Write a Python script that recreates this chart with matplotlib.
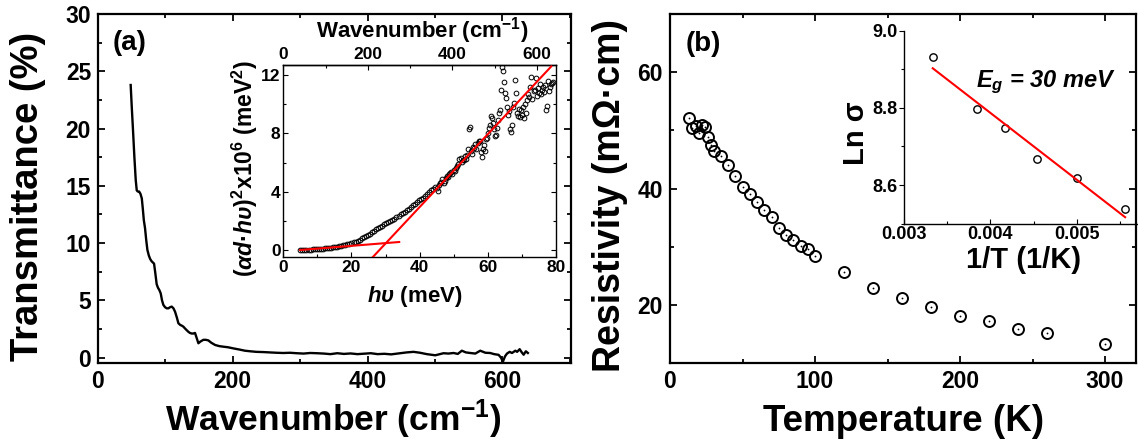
import matplotlib
matplotlib.use('Agg')
import matplotlib.pyplot as plt
from matplotlib.ticker import MultipleLocator, FormatStrFormatter

plt.rcParams['font.family'] = ['Liberation Sans', 'DejaVu Sans']
plt.rcParams['font.weight'] = 'bold'
plt.rcParams['axes.labelweight'] = 'bold'
plt.rcParams['mathtext.fontset'] = 'custom'
plt.rcParams['mathtext.rm'] = 'Liberation Sans:bold'
plt.rcParams['mathtext.it'] = 'Liberation Sans:bold:italic'
plt.rcParams['mathtext.bf'] = 'Liberation Sans:bold'
plt.rcParams['mathtext.sf'] = 'Liberation Sans:bold'

# ---------------- data ----------------
# (a) main: transmittance vs wavenumber
wavenumber = [48.5, 50, 52, 54, 56, 57.5, 59, 61, 63, 65,
              66.5, 68, 69.8, 71.5, 73.3, 75.5, 77.5, 79.7, 81.5, 83.2,
              85, 87.1, 89, 91, 93.1, 95, 97, 99.5, 102, 104.5,
              107, 109.4, 112, 114.4, 117, 119.3, 122, 124, 126.7, 129,
              131.5, 134.1, 136.5, 139.1, 141.5, 144, 146.5, 149, 152, 156.4,
              160, 163.8, 168, 173.8, 180, 186.1, 193, 201, 210, 218,
              225.8, 235, 245.6, 255, 265, 275, 285, 295, 305, 315,
              325, 335, 345, 355, 365, 375, 385, 395, 405, 415,
              425, 435, 448.5, 458, 468.3, 478, 488, 500.5, 506, 512.8,
              520, 527.7, 534, 540, 546, 552.5, 560, 567.3, 575, 582,
              588, 594.5, 598, 601, 604, 607, 611, 614.4, 619.4, 622,
              625.8, 629, 631.7, 635, 638]
transmittance = [23.8, 22.0, 19.8, 17.5, 15.5, 14.6, 14.5, 14.5, 14.3, 13.9,
                 13.0, 12.0, 11.3, 10.3, 9.4, 8.9, 8.6, 8.4, 8.3, 8.2,
                 7.4, 6.4, 6.1, 5.9, 5.6, 5.0, 4.6, 4.4, 4.3, 4.3,
                 4.4, 4.45, 4.3, 4.0, 3.5, 3.0, 2.85, 2.8, 2.7, 2.55,
                 2.4, 2.25, 2.15, 2.1, 2.1, 2.15, 1.7, 1.25, 1.4, 1.55,
                 1.55, 1.5, 1.3, 1.1, 1.0, 0.95, 0.9, 0.8, 0.7, 0.6,
                 0.55, 0.5, 0.48, 0.45, 0.42, 0.40, 0.42, 0.38, 0.35, 0.40,
                 0.38, 0.35, 0.30, 0.38, 0.32, 0.36, 0.30, 0.34, 0.38, 0.30,
                 0.33, 0.28, 0.38, 0.45, 0.50, 0.42, 0.30, 0.20, 0.28, 0.38,
                 0.35, 0.40, 0.32, 0.60, 0.45, 0.40, 0.35, 0.60, 0.42, 0.40,
                 0.30, 0.24, 0.0, -0.35, 0.10, 0.35, 0.50, 0.40, 0.60, 0.50,
                 0.73, 0.45, 0.25, 0.55, 0.40]

# (a) inset: (alpha d h nu)^2 vs h nu
hv = [5.0, 5.6, 6.2, 6.8, 7.4, 8.0, 8.6, 9.2, 9.8, 10.4,
      11.0, 11.6, 12.2, 12.8, 13.4, 14.0, 14.6, 15.2, 15.8, 16.4,
      17.0, 17.6, 18.2, 18.8, 19.4, 20.0, 20.6, 21.2, 21.8, 22.4,
      23.0, 23.6, 24.2, 24.8, 25.4, 26.0, 26.6, 27.2, 27.8, 28.4,
      29.0, 29.6, 30.2, 30.8, 31.4, 32.0, 32.6, 33.2, 33.8, 34.4,
      35.0, 35.6, 36.2, 36.8, 37.4, 38.0, 38.6, 39.2, 39.8, 40.4,
      41.0, 41.6, 42.2, 42.8, 43.4, 44.0, 44.6,
      45.0, 45.3, 45.6, 46.0, 46.3, 46.6, 47.0, 47.3, 47.6, 48.0,
      48.3, 48.6, 49.0, 49.3, 49.6, 50.0, 50.3, 50.6, 51.0, 51.3,
      51.6, 52.0, 52.3, 52.6, 53.0, 53.3, 53.6, 54.0, 54.3, 54.6,
      54.8, 55.0, 55.3, 55.6, 56.0, 56.3, 56.6, 57.0, 57.3, 57.6,
      57.9, 58.2, 58.5, 58.8, 59.1, 59.4, 59.7, 60.0, 60.3, 60.6,
      60.9, 61.2, 61.5, 61.8, 62.1, 62.4, 62.7, 63.0, 63.3, 63.6,
      63.9, 64.2, 64.4, 64.7, 65.0, 65.3, 65.6, 65.9, 66.2, 66.5,
      66.8, 67.1, 67.4, 67.7, 68.0, 68.3, 68.6, 68.9, 69.2, 69.5,
      69.8, 70.1, 70.4, 70.7, 71.0, 71.3, 71.6, 71.9, 72.2, 72.5,
      72.8, 73.1, 73.4, 73.7, 74.0, 74.3, 74.6, 74.9, 75.2, 75.5,
      75.8, 76.1, 76.4, 76.7, 77.0, 77.3, 77.6, 77.9, 78.2, 78.5,
      78.8, 79.2]
absorb = [0.00, 0.01, 0.02, 0.01, 0.03, 0.02, 0.04, 0.05, 0.05, 0.07,
          0.08, 0.09, 0.11, 0.12, 0.14, 0.16, 0.18, 0.20, 0.22, 0.25,
          0.28, 0.31, 0.35, 0.39, 0.43, 0.47, 0.52, 0.58, 0.65, 0.72,
          0.80, 0.88, 0.96, 1.04, 1.12, 1.22, 1.30, 1.42, 1.50, 1.60,
          1.68, 1.76, 1.83, 1.90, 1.98, 2.06, 2.15, 2.24, 2.33, 2.44,
          2.52, 2.62, 2.72, 2.83, 2.95, 3.06, 3.15, 3.27, 3.40, 3.48,
          3.58, 3.68, 3.82, 3.95, 4.10, 4.22, 4.30,
          4.25, 4.05, 4.45, 4.62, 4.70, 4.85, 4.60, 4.75, 4.95, 5.05,
          4.98, 5.20, 5.32, 5.38, 5.25, 5.50, 5.40, 5.65, 5.80, 5.90,
          6.25, 6.30, 6.05, 6.15, 6.20, 6.45, 6.25, 6.55, 6.90, 8.30,
          8.45, 6.80, 6.60, 7.10, 7.00, 7.30, 6.90, 7.35, 7.50, 7.45,
          6.70, 6.40, 6.95, 7.20, 6.80, 7.60, 7.70, 8.00, 8.40, 8.60,
          9.20, 9.05, 8.70, 8.30, 7.80, 7.90, 8.40, 8.90, 9.40, 9.60,
          10.95, 12.55, 12.30, 11.50, 10.80, 10.45, 9.80, 9.30, 9.55, 8.30,
          8.10, 8.60, 9.80, 10.10, 11.65, 10.80, 9.40, 9.20, 9.70, 9.10,
          9.60, 9.30, 9.80, 9.05, 10.00, 9.40, 10.30, 10.70, 10.50, 11.20,
          11.85, 10.40, 10.90, 11.00, 11.80, 10.60, 11.10, 10.80, 11.40, 10.70,
          11.00, 11.20, 10.85, 11.30, 9.60, 9.90, 11.60, 10.90, 11.20, 11.40,
          11.45, 11.50]
fit_low_x = [4.9, 34.0]
fit_low_y = [0.0, 0.55]
fit_high_x = [26.2, 78.6]
fit_high_y = [-0.5, 12.6]

# (b) main: resistivity vs temperature
temperature = [13, 15.5, 18, 20, 22, 24, 26, 28, 30, 35, 40, 45, 50, 55, 60, 65,
               70, 75, 80, 85, 90, 95, 100, 120, 140, 160, 180, 200, 220, 240, 260, 300]
resistivity = [52.2, 50.4, 50.8, 49.6, 50.9, 50.6, 48.9, 47.5, 46.5, 45.6, 44.0, 42.2,
               40.3, 39.0, 37.7, 36.3, 35.1, 33.3, 32.1, 31.1, 30.1, 29.6, 28.4, 25.7,
               23.0, 21.2, 19.7, 18.2, 17.3, 15.9, 15.2, 13.3]

# (b) inset: Ln sigma vs 1/T
inv_T = [0.003333, 0.003846, 0.004167, 0.004545, 0.005, 0.005556]
ln_sigma = [8.933, 8.796, 8.747, 8.667, 8.618, 8.537]
fit_b_x = [0.003333, 0.005561]
fit_b_y = [8.9026, 8.5166]

# ---------------- figure ----------------
W, H = 1138, 441
fig = plt.figure(figsize=(W / 100, H / 100), dpi=100)


def fx(px):
    return px / W


def fy(py):
    return 1 - py / H


def rect(l, t, r, b):
    return [l / W, 1 - b / H, (r - l) / W, (b - t) / H]


def style(ax, lw, maj, mnr, size, pad, direction='in', mirror=True):
    for s in ax.spines.values():
        s.set_linewidth(lw)
    ax.tick_params(which='both', direction=direction, top=mirror, right=mirror,
                   width=lw * 0.8, labelsize=size, pad=pad)
    ax.tick_params(which='major', length=maj)
    ax.tick_params(which='minor', length=mnr)


RED = '#ff0000'
SUP = '$^{\\mathregular{-1}}$'

# ----- panel (a) -----
axA = fig.add_axes(rect(98, 14, 571, 363.3))
axA.plot(wavenumber, transmittance, color='black', lw=1.7)
axA.set_xlim(0, 702)
axA.set_ylim(-0.5, 30)
axA.xaxis.set_major_locator(MultipleLocator(200))
axA.xaxis.set_minor_locator(MultipleLocator(100))
axA.yaxis.set_major_locator(MultipleLocator(5))
axA.yaxis.set_minor_locator(MultipleLocator(2.5))
style(axA, 1.6, 5, 3, 16.5, 5)
axA.set_xlabel('Wavenumber (cm' + SUP + ')', fontsize=25.5, fontweight='bold')
axA.xaxis.set_label_coords(fx(333), fy(431), transform=fig.transFigure)
axA.xaxis.label.set_va('baseline')
axA.set_ylabel('Transmittance (%)', fontsize=27.5, fontweight='bold')
axA.yaxis.set_label_coords(fx(28.5), fy(196), transform=fig.transFigure)
axA.yaxis.label.set_va('center')
fig.text(fx(130), fy(43), '(a)', fontsize=20, fontweight='bold', ha='center', va='center')

# inset (a)
insA = fig.add_axes(rect(283.3, 65, 556, 257.3))
insA.plot(hv, absorb, linestyle='none', marker='o', ms=3.4, mfc='none',
          mec='black', mew=0.7, zorder=2)
insA.plot(fit_low_x, fit_low_y, color=RED, lw=1.5, zorder=3)
insA.plot(fit_high_x, fit_high_y, color=RED, lw=1.5, zorder=3)
insA.set_xlim(0, 80)
insA.set_ylim(-0.5, 12.7)
insA.xaxis.set_major_locator(MultipleLocator(20))
insA.xaxis.set_minor_locator(MultipleLocator(10))
insA.yaxis.set_major_locator(MultipleLocator(4))
insA.yaxis.set_minor_locator(MultipleLocator(2))
style(insA, 1.0, 3.5, 2, 12.5, 2)
insA.tick_params(which='both', top=False)
insA.set_xlabel(r'$h\upsilon$ (meV)', fontsize=16, fontweight='bold')
insA.xaxis.set_label_coords(fx(415), fy(302), transform=fig.transFigure)
insA.xaxis.label.set_va('baseline')
insA.set_ylabel('$(\\alpha d\u00b7h\\upsilon)^{\\mathregular{2}}$x10$^{\\mathregular{6}}$ (meV$^{\\mathregular{2}}$)',
                fontsize=16.5, fontweight='bold')
insA.yaxis.set_label_coords(fx(245), fy(169), transform=fig.transFigure)
insA.yaxis.label.set_va('center')

secA = insA.secondary_xaxis('top', functions=(lambda e: e * 8.0655, lambda w: w / 8.0655))
secA.xaxis.set_major_locator(MultipleLocator(200))
secA.xaxis.set_minor_locator(MultipleLocator(100))
secA.spines['top'].set_linewidth(1.0)
secA.tick_params(which='both', direction='in', width=0.8, labelsize=12.5, pad=2.4)
secA.tick_params(which='major', length=3.5)
secA.tick_params(which='minor', length=2)
secA.set_xlabel('Wavenumber (cm' + SUP + ')', fontsize=16, fontweight='bold')
secA.xaxis.set_label_coords(fx(422), fy(37.3), transform=fig.transFigure)
secA.xaxis.label.set_va('baseline')

# ----- panel (b) -----
axB = fig.add_axes(rect(670, 14, 1135.5, 363.3))
axB.plot(temperature, resistivity, linestyle='none', marker='o', ms=7.9,
         mfc='none', mec='black', mew=1.4)
axB.plot(temperature, resistivity, linestyle='none', marker='o', ms=1.3,
         mfc='black', mec='black', mew=0)
axB.set_xlim(0, 321)
axB.set_ylim(10, 70)
axB.xaxis.set_major_locator(MultipleLocator(100))
axB.xaxis.set_minor_locator(MultipleLocator(50))
axB.yaxis.set_major_locator(MultipleLocator(20))
axB.yaxis.set_minor_locator(MultipleLocator(10))
style(axB, 1.6, 5, 3, 16.5, 5)
axB.set_xlabel('Temperature (K)', fontsize=26.5, fontweight='bold')
axB.xaxis.set_label_coords(fx(904), fy(431), transform=fig.transFigure)
axB.xaxis.label.set_va('baseline')
axB.set_ylabel('Resistivity (m\u03a9\u00b7cm)', fontsize=27, fontweight='bold')
axB.yaxis.set_label_coords(fx(610.5), fy(196), transform=fig.transFigure)
axB.yaxis.label.set_va('center')
fig.text(fx(703), fy(44), '(b)', fontsize=20, fontweight='bold', ha='center', va='center')

# inset (b)
insB = fig.add_axes(rect(904, 30.7, 1138, 223.6))
insB.patch.set_alpha(0)
insB.plot(inv_T, ln_sigma, linestyle='none', marker='o', ms=5.3, mfc='none',
          mec='black', mew=1.0)
insB.plot(fit_b_x, fit_b_y, color=RED, lw=1.5)
insB.set_xlim(0.003, 0.00571)
insB.set_ylim(8.5, 9.0)
insB.spines['top'].set_visible(False)
insB.spines['right'].set_visible(False)
for s in ('left', 'bottom'):
    insB.spines[s].set_linewidth(1.0)
insB.xaxis.set_major_locator(MultipleLocator(0.001))
insB.xaxis.set_minor_locator(MultipleLocator(0.0005))
insB.xaxis.set_major_formatter(FormatStrFormatter('%.3f'))
insB.yaxis.set_major_locator(MultipleLocator(0.2))
insB.yaxis.set_minor_locator(MultipleLocator(0.1))
insB.yaxis.set_major_formatter(FormatStrFormatter('%.1f'))
insB.tick_params(axis='y', which='both', direction='out', width=0.8, labelsize=13, pad=1.2)
insB.tick_params(axis='x', which='both', direction='in', width=0.8, labelsize=13, pad=2)
insB.tick_params(which='major', length=3.5)
insB.tick_params(which='minor', length=2)
insB.set_xlabel('1/T (1/K)', fontsize=21, fontweight='bold')
insB.xaxis.set_label_coords(fx(1023.3), fy(268.3), transform=fig.transFigure)
insB.xaxis.label.set_va('baseline')
insB.set_ylabel('Ln \u03c3', fontsize=21, fontweight='bold')
insB.yaxis.set_label_coords(fx(856), fy(133), transform=fig.transFigure)
insB.yaxis.label.set_va('center')
fig.text(fx(976), fy(87.3), r'$E_g$ = 30 meV', fontsize=17, fontstyle='italic',
         fontweight='bold', ha='left', va='baseline')

fig.savefig('out.png', dpi=100)
